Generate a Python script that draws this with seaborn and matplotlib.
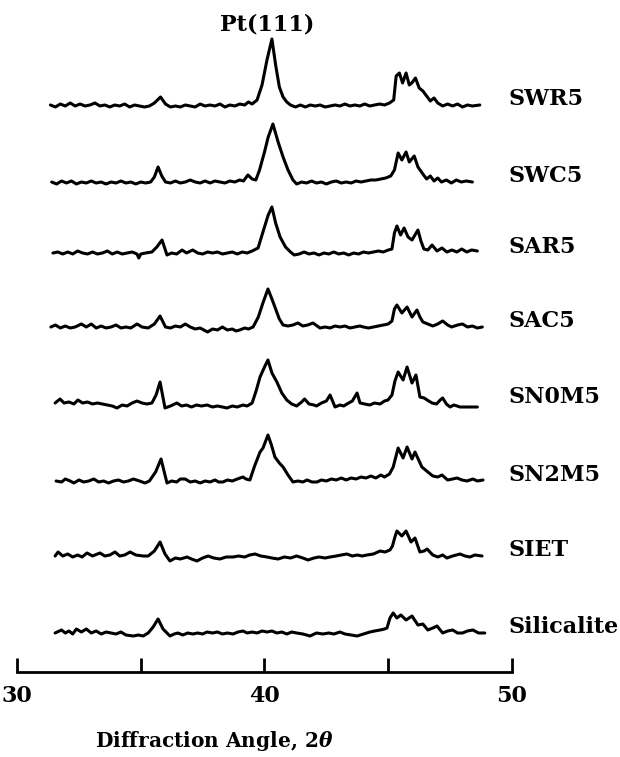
import matplotlib
matplotlib.use("Agg")
import matplotlib.pyplot as plt
import seaborn as sns
import pandas as pd

# ---- data: (2θ, relative intensity) ----
SAMPLES = ["SWR5", "SWC5", "SAR5", "SAC5", "SN0M5", "SN2M5", "SIET", "Silicalite"]

SWR5 = [(31.35,0),(31.55,-2),(31.75,1),(31.95,-1),(32.15,2),(32.35,-1),(32.55,1),(32.75,-1),(32.95,0),(33.15,2),
        (33.35,-1),(33.55,0),(33.75,-2),(33.95,0),(34.15,-1),(34.35,1),(34.55,-2),(34.75,0),(34.95,-1),(35.15,-2),
        (35.35,-1),(35.55,2),(35.8,8),(36.0,1),(36.2,-2),(36.4,-1),(36.6,-2),(36.8,0),(37.0,-1),(37.2,-2),
        (37.4,1),(37.6,-1),(37.8,0),(38.0,-1),(38.2,1),(38.4,-2),(38.6,0),(38.8,-1),(39.0,1),(39.2,0),
        (39.35,3),(39.5,1),(39.7,5),(39.9,20),(40.1,45),(40.3,66),(40.45,40),(40.6,18),(40.75,8),(40.9,3),
        (41.05,0),(41.25,-2),(41.45,0),(41.65,-2),(41.85,0),(42.05,-1),(42.25,0),(42.45,-2),(42.65,-1),(42.85,0),
        (43.05,-1),(43.25,1),(43.45,-1),(43.65,0),(43.85,-1),(44.05,1),(44.25,-1),(44.45,0),(44.65,1),(44.85,0),
        (45.05,2),(45.22,5),(45.32,29),(45.45,32),(45.58,22),(45.72,32),(45.85,20),(45.95,22),(46.1,27),(46.25,17),
        (46.4,14),(46.55,9),(46.7,4),(46.85,7),(47.0,2),(47.2,-1),(47.4,1),(47.6,-1),(47.8,1),(48.0,-2),
        (48.2,0),(48.4,-1),(48.7,0)]

SWC5 = [(31.4,0),(31.6,-2),(31.8,1),(32.0,-1),(32.2,1),(32.4,-2),(32.6,0),(32.8,-1),(33.0,1),(33.2,-1),
        (33.4,0),(33.6,-2),(33.8,0),(34.0,-1),(34.2,1),(34.4,-1),(34.6,0),(34.8,-2),(35.0,0),(35.2,-1),
        (35.4,0),(35.55,5),(35.7,15),(35.85,6),(36.0,0),(36.2,-1),(36.4,1),(36.6,-1),(36.8,0),(37.0,2),
        (37.2,0),(37.4,-1),(37.6,1),(37.8,-1),(38.0,1),(38.2,0),(38.4,-1),(38.6,1),(38.8,0),(39.0,2),
        (39.15,1),(39.33,7),(39.5,3),(39.65,2),(39.8,12),(40.0,30),(40.15,45),(40.34,58),(40.55,40),(40.75,25),
        (40.95,12),(41.15,2),(41.3,-2),(41.5,0),(41.7,-1),(41.9,1),(42.1,-1),(42.3,0),(42.5,-2),(42.7,0),
        (42.9,1),(43.1,-1),(43.3,0),(43.5,-1),(43.7,1),(43.9,0),(44.1,1),(44.3,2),(44.5,2),(44.7,3),
        (44.9,4),(45.1,6),(45.25,12),(45.4,29),(45.55,22),(45.72,30),(45.85,20),(46.05,26),(46.2,15),(46.4,8),
        (46.55,3),(46.7,6),(46.85,1),(47.0,4),(47.15,0),(47.35,2),(47.55,-1),(47.75,2),(47.95,0),(48.15,1),
        (48.4,0)]

SAR5 = [(31.45,0),(31.65,1),(31.85,-1),(32.05,1),(32.25,-1),(32.45,2),(32.65,0),(32.85,-1),(33.05,1),(33.25,-1),
        (33.45,0),(33.65,2),(33.85,-1),(34.05,1),(34.25,-1),(34.45,0),(34.65,1),(34.85,-1),(34.92,-5),(35.0,-1),
        (35.2,0),(35.45,1),(35.65,6),(35.86,13),(36.06,-2),(36.25,0),(36.45,-1),(36.67,3),(36.85,0),(37.1,3),
        (37.3,0),(37.5,-1),(37.7,1),(37.9,0),(38.1,1),(38.3,-1),(38.5,0),(38.7,1),(38.9,-1),(39.1,1),
        (39.3,0),(39.5,2),(39.74,5),(39.95,22),(40.15,38),(40.3,46),(40.45,30),(40.63,16),(40.85,6),(41.05,1),
        (41.2,-2),(41.4,-1),(41.6,1),(41.8,-1),(42.0,0),(42.2,-2),(42.4,0),(42.6,-1),(42.8,1),(43.0,-1),
        (43.2,0),(43.4,-2),(43.6,0),(43.8,-1),(44.0,1),(44.2,0),(44.4,1),(44.6,2),(44.8,1),(45.0,3),
        (45.15,4),(45.25,20),(45.35,27),(45.5,18),(45.64,25),(45.8,16),(45.96,13),(46.2,23),(46.32,12),(46.44,4),
        (46.6,3),(46.77,8),(46.97,2),(47.17,5),(47.37,1),(47.57,3),(47.77,1),(47.97,4),(48.17,1),(48.37,3),
        (48.6,2)]

SAC5 = [(31.37,0),(31.55,2),(31.75,-1),(31.95,1),(32.15,-1),(32.35,0),(32.6,3),(32.8,0),(33.0,3),(33.2,-1),
        (33.4,1),(33.6,-1),(33.8,0),(34.0,2),(34.2,-1),(34.4,0),(34.6,-1),(34.85,3),(35.05,0),(35.3,-1),
        (35.55,3),(35.78,11),(36.0,0),(36.2,-1),(36.4,1),(36.6,0),(36.8,3),(37.0,0),(37.2,-2),(37.4,-1),
        (37.7,-5),(37.9,-2),(38.1,-3),(38.3,0),(38.5,-3),(38.7,-2),(38.85,-4),(39.0,-3),(39.2,-1),(39.35,-2),
        (39.54,0),(39.75,10),(39.95,25),(40.14,38),(40.3,28),(40.45,18),(40.6,8),(40.75,2),(40.95,1),(41.15,2),
        (41.35,4),(41.55,1),(41.75,2),(41.96,4),(42.24,-1),(42.45,0),(42.65,-1),(42.85,1),(43.05,0),(43.25,1),
        (43.45,-1),(43.65,0),(43.85,1),(44.0,0),(44.2,-1),(44.4,0),(44.6,1),(44.8,2),(45.0,3),(45.15,6),
        (45.25,18),(45.35,22),(45.55,14),(45.76,20),(45.96,10),(46.16,17),(46.28,10),(46.4,5),(46.6,3),(46.8,1),
        (47.0,3),(47.2,6),(47.4,2),(47.56,0),(47.8,2),(48.0,3),(48.2,0),(48.4,1),(48.6,-1),(48.8,0)]

SN0M5 = [(31.54,0),(31.74,4),(31.9,0),(32.1,1),(32.3,-1),(32.46,3),(32.65,0),(32.85,1),(33.05,-1),(33.25,0),
         (33.45,-1),(33.65,-2),(33.85,-3),(34.04,-5),(34.25,-2),(34.45,-3),(34.65,0),(34.85,2),(35.05,0),(35.25,-1),
         (35.45,0),(35.62,8),(35.78,21),(35.98,-5),(36.2,-3),(36.46,0),(36.65,-3),(36.85,-2),(37.05,-4),(37.25,-2),
         (37.45,-3),(37.68,-2),(37.9,-4),(38.1,-3),(38.3,-4),(38.48,-5),(38.7,-3),(38.9,-4),(39.13,-2),(39.3,-3),
         (39.5,0),(39.66,12),(39.82,26),(40.0,36),(40.14,43),(40.3,30),(40.5,21),(40.7,10),(40.9,3),(41.1,-1),
         (41.3,-3),(41.5,1),(41.62,4),(41.8,-1),(42.0,-2),(42.1,-3),(42.3,0),(42.5,2),(42.65,8),(42.85,-4),
         (43.05,-2),(43.2,-3),(43.33,-1),(43.55,2),(43.74,10),(43.86,0),(44.05,-1),(44.25,-2),(44.45,0),(44.67,-1),
         (44.85,2),(44.99,3),(45.15,8),(45.27,22),(45.4,31),(45.6,23),(45.76,36),(45.96,20),(46.12,28),(46.28,6),
         (46.45,5),(46.57,3),(46.77,0),(46.95,-1),(47.1,3),(47.2,5),(47.35,-1),(47.5,-4),(47.65,-2),(47.78,-3),
         (47.9,-4),(48.6,-4)]

SN2M5 = [(31.58,0),(31.8,-1),(31.95,2),(32.15,0),(32.3,-2),(32.5,1),(32.7,-1),(32.9,0),(33.1,2),(33.3,-1),
         (33.5,0),(33.7,-2),(33.9,0),(34.1,1),(34.3,-1),(34.5,0),(34.7,2),(34.95,0),(35.17,-2),(35.35,0),
         (35.6,9),(35.82,22),(36.06,-2),(36.25,0),(36.45,-1),(36.6,2),(36.79,2),(37.0,-1),(37.2,0),(37.4,-2),
         (37.6,0),(37.8,-1),(38.0,1),(38.15,-1),(38.32,-1),(38.5,1),(38.7,0),(38.9,2),(39.13,4),(39.25,2),
         (39.41,1),(39.6,15),(39.82,29),(39.94,33),(40.14,46),(40.28,36),(40.42,24),(40.6,18),(40.75,14),(40.95,6),
         (41.15,-1),(41.35,0),(41.55,-1),(41.72,1),(41.92,-1),(42.12,-1),(42.3,1),(42.5,0),(42.7,2),(42.9,1),
         (43.1,3),(43.3,1),(43.5,3),(43.7,2),(43.9,4),(44.1,3),(44.3,5),(44.5,3),(44.7,6),(44.85,4),
         (45.05,7),(45.2,14),(45.4,33),(45.6,23),(45.76,34),(45.96,22),(46.08,29),(46.36,14),(46.6,9),(46.8,5),
         (47.0,4),(47.17,6),(47.4,1),(47.6,2),(47.78,3),(47.98,1),(48.18,0),(48.42,2),(48.6,0),(48.83,1)]

SIET = [(31.54,0),(31.66,4),(31.85,0),(32.05,2),(32.25,-1),(32.45,1),(32.63,-1),(32.83,3),(33.05,0),(33.35,3),
        (33.55,0),(33.75,1),(33.96,4),(34.15,0),(34.35,1),(34.57,4),(34.8,1),(35.1,0),(35.3,0),(35.55,5),
        (35.78,14),(35.98,2),(36.18,-5),(36.4,-2),(36.6,-3),(36.87,-1),(37.05,-3),(37.27,-5),(37.5,-2),(37.72,0),
        (37.95,-2),(38.2,-3),(38.45,-1),(38.73,-1),(38.95,0),(39.2,-1),(39.4,1),(39.62,2),(39.85,0),(40.1,-1),
        (40.3,-2),(40.55,-3),(40.8,-1),(41.05,-2),(41.3,0),(41.55,-2),(41.76,-4),(42.0,-2),(42.2,-1),(42.45,-2),
        (42.65,-1),(42.9,0),(43.1,1),(43.33,2),(43.55,0),(43.75,1),(43.95,0),(44.14,1),(44.4,2),(44.67,5),
        (44.87,4),(45.07,6),(45.17,10),(45.27,19),(45.35,25),(45.55,20),(45.72,25),(45.92,14),(46.08,18),(46.28,4),
        (46.45,5),(46.57,7),(46.8,1),(47.0,-1),(47.2,1),(47.37,-2),(47.6,0),(47.9,2),(48.1,0),(48.3,-1),
        (48.5,1),(48.79,0)]

SILICALITE = [(31.54,0),(31.8,3),(31.95,0),(32.1,2),(32.25,-1),(32.4,4),(32.6,1),(32.8,4),(33.0,0),(33.2,2),
              (33.4,-1),(33.6,1),(33.8,0),(34.0,-1),(34.2,1),(34.4,-2),(34.7,-3),(34.9,-2),(35.1,-3),(35.3,0),
              (35.5,6),(35.7,14),(35.9,4),(36.18,-3),(36.35,-1),(36.5,0),(36.7,-2),(36.9,0),(37.1,-1),(37.3,0),
              (37.5,-1),(37.68,1),(37.9,0),(38.1,1),(38.3,-1),(38.5,0),(38.73,-1),(38.93,1),(39.13,2),(39.3,0),
              (39.5,1),(39.7,0),(39.9,2),(40.1,1),(40.3,2),(40.5,0),(40.7,1),(40.9,-1),(41.1,1),(41.3,0),
              (41.55,-1),(41.84,-3),(42.1,0),(42.36,-1),(42.6,0),(42.8,-1),(43.05,1),(43.25,-1),(43.5,-2),(43.74,-3),
              (44.0,-1),(44.26,1),(44.45,2),(44.67,3),(44.85,4),(44.95,5),(45.07,15),(45.2,20),(45.35,15),(45.51,18),
              (45.72,13),(45.96,17),(46.2,8),(46.4,9),(46.6,3),(46.8,5),(46.97,7),(47.2,0),(47.4,2),(47.6,3),
              (47.8,0),(48.0,0),(48.2,2),(48.42,3),(48.65,0),(48.9,0)]

TRACES = [SWR5, SWC5, SAR5, SAC5, SN0M5, SN2M5, SIET, SILICALITE]
X_TICKS = [30, 35, 40, 45, 50]
X_TICK_LABELS = ["30", "", "40", "", "50"]
PEAK_LABEL = "Pt(111)"
PEAK_POS = 40.1

# ---- layout (vertical stacking offsets) ----
OFFSETS = [652, 575, 504, 430, 354, 276, 201, 124]

rows = []
for name, trace, off in zip(SAMPLES, TRACES, OFFSETS):
    for tt, inten in trace:
        rows.append({"sample": name, "two_theta": tt, "y": inten + off})
df = pd.DataFrame(rows)

sns.set_style("white")
plt.rcParams["font.family"] = ["DejaVu Serif"]
plt.rcParams["font.weight"] = "bold"
plt.rcParams["mathtext.fontset"] = "dejavuserif"
plt.rcParams["text.color"] = "black"
plt.rcParams["xtick.color"] = "black"
plt.rcParams["xtick.labelcolor"] = "black"
plt.rcParams["axes.labelcolor"] = "black"

fig = plt.figure(figsize=(6.2, 7.57), dpi=100)
ax = fig.add_axes([0, 0, 1, 1])

sns.lineplot(data=df, x="two_theta", y="y", units="sample", estimator=None, sort=False,
             color="black", linewidth=2.2, ax=ax)

ax.set_xlim(29.313, 54.364)
ax.set_ylim(0, 757)

for name, off in zip(SAMPLES, OFFSETS):
    ax.text(49.84, off, name, ha="left", va="baseline", fontsize=16, fontweight="bold", color="black")

ax.text(PEAK_POS, 732, PEAK_LABEL, ha="center", va="center", fontsize=16, fontweight="bold", color="black")

for s in ["left", "top", "right"]:
    ax.spines[s].set_visible(False)
ax.spines["bottom"].set_position(("data", 85))
ax.spines["bottom"].set_bounds(30, 50)
ax.spines["bottom"].set_linewidth(2)
ax.spines["bottom"].set_color("black")
ax.set_xticks(X_TICKS)
ax.set_xticklabels(X_TICK_LABELS)
ax.tick_params(axis="x", bottom=True, direction="in", length=10, width=2, pad=9,
               labelsize=16, color="black", labelcolor="black")
ax.set_yticks([])
ax.set_ylabel("")
ax.set_xlabel("Diffraction Angle, 2$\\theta$", fontsize=14.5, fontweight="bold", color="black")
ax.xaxis.set_label_coords(214 / 620, 28 / 757)
ax.xaxis.label.set_va("top")

fig.savefig("out.png", dpi=100)
